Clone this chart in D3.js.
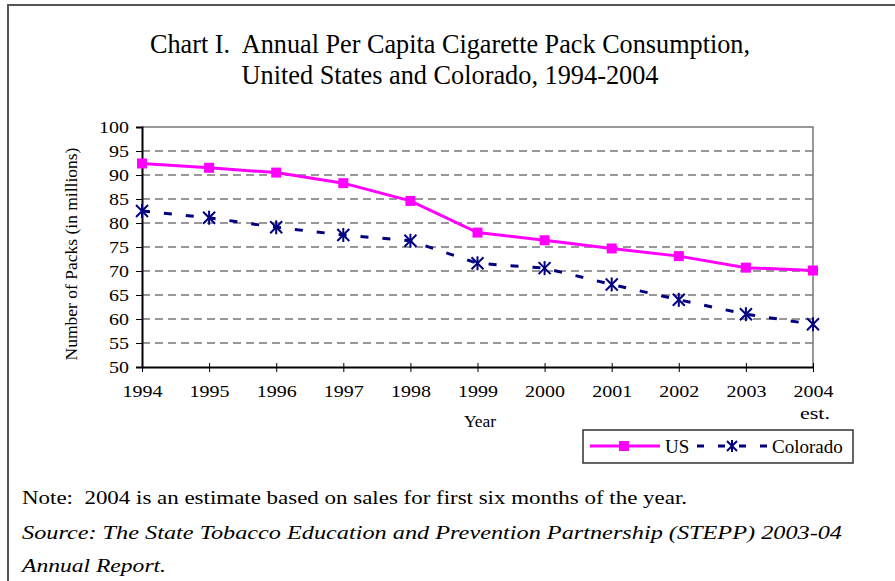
<!DOCTYPE html>
<html><head><meta charset="utf-8">
<script src="https://cdn.jsdelivr.net/npm/d3@7"></script>
<style>body{margin:0;background:#fff}svg{display:block}</style>
</head><body><svg id="c" width="895" height="581"></svg>
<script>
const years = [1994,1995,1996,1997,1998,1999,2000,2001,2002,2003,2004];
const usValues = [92.4,91.5,90.5,88.3,84.6,78.0,76.4,74.7,73.1,70.7,70.1];
const coValues = [82.5,81.1,79.1,77.5,76.3,71.6,70.6,67.2,64.0,61.0,58.9];
const yTicks = [50,55,60,65,70,75,80,85,90,95,100];
const titleLines = ["Chart I.  Annual Per Capita Cigarette Pack Consumption,","United States and Colorado, 1994-2004"];
const seriesNames = ["US","Colorado"];
const noteLines = ["Note:  2004 is an estimate based on sales for first six months of the year.",
  "Source: The State Tobacco Education and Prevention Partnership (STEPP) 2003-04",
  "Annual Report."];

const FONT = '"Liberation Serif", "Times New Roman", serif';
const svg = d3.select("#c");
// outer frame
svg.append("path").attr("d","M8,581 L8,5 L895,5").attr("fill","none").attr("stroke","#555").attr("stroke-width",2);

const x = d3.scaleLinear().domain([1994,2004]).range([142,813]);
const y = d3.scaleLinear().domain([50,100]).range([367,127]);

function txt(g){ return g.append("text").style("font-family",FONT).attr("fill","#000"); }

// title
const titleW = [600,417];
titleLines.forEach((t,i)=>{
  txt(svg).attr("x",450).attr("y",53+i*31).attr("text-anchor","middle").style("white-space","pre")
   .style("font-size","27px").attr("textLength",titleW[i]).attr("lengthAdjust","spacingAndGlyphs").text(t);
});

// grid
svg.append("g").selectAll("line").data(yTicks.filter(t=>t>50&&t<100)).enter().append("line")
  .attr("x1",x(1994)).attr("x2",x(2004)).attr("y1",d=>y(d)).attr("y2",d=>y(d))
  .attr("stroke","#333").attr("stroke-width",1).attr("stroke-dasharray","8,5");
// plot border top & right
svg.append("path").attr("d",`M${x(1994)},${y(100)} L${x(2004)},${y(100)} L${x(2004)},${y(50)}`)
  .attr("fill","none").attr("stroke","#777").attr("stroke-width",1.5);

// axes
const yAxis = d3.axisLeft(y).tickValues(yTicks).tickSize(6).tickPadding(7);
const gy = svg.append("g").attr("transform",`translate(${x(1994)},0)`).call(yAxis).attr("font-family",null).attr("font-size",null);
gy.select(".domain").attr("stroke","#000").attr("stroke-width",2);
gy.selectAll(".tick line").attr("stroke","#000").attr("stroke-width",1);
gy.selectAll("text").style("font-family",FONT).style("font-size","17.5px").attr("fill","#000")
  .attr("textLength",d=>String(d).length*10).attr("lengthAdjust","spacingAndGlyphs");

const xAxis = d3.axisBottom(x).tickValues(years).tickFormat(d3.format("d")).tickSizeInner(5).tickSizeOuter(0).tickPadding(13);
const gx = svg.append("g").attr("transform",`translate(0,${y(50)})`).call(xAxis).attr("font-family",null).attr("font-size",null);
gx.select(".domain").attr("stroke","#000").attr("stroke-width",2);
gx.selectAll(".tick line").attr("stroke","#000").attr("stroke-width",1).attr("y1",-4);
gx.selectAll("text").style("font-family",FONT).style("font-size","17.5px").attr("fill","#000")
  .attr("textLength",40).attr("lengthAdjust","spacingAndGlyphs");

txt(svg).attr("x",x(2004)+2).attr("y",419).attr("text-anchor","middle").style("font-size","17px")
  .attr("textLength",30).attr("lengthAdjust","spacingAndGlyphs").text("est.");
txt(svg).attr("x",480).attr("y",427).attr("text-anchor","middle").style("font-size","17.5px").text("Year");
txt(svg).attr("transform",`translate(77,254) rotate(-90)`).attr("text-anchor","middle").style("font-size","17.5px").text("Number of Packs (in millions)");

// lines
const line = d3.line().x((d,i)=>x(years[i])).y(d=>y(d));
svg.append("path").datum(coValues).attr("d",line).attr("fill","none").attr("stroke","#000080").attr("stroke-width",3).attr("stroke-dasharray","8,14");
svg.append("path").datum(usValues).attr("d",line).attr("fill","none").attr("stroke","#FF00FF").attr("stroke-width",3);

function star(g,cx,cy,r){
  const gg = g.append("g").attr("transform",`translate(${cx},${cy})`).attr("stroke","#000080").attr("stroke-width",2);
  gg.append("line").attr("x1",-r).attr("y1",-r).attr("x2",r).attr("y2",r);
  gg.append("line").attr("x1",-r).attr("y1",r).attr("x2",r).attr("y2",-r);
  gg.append("line").attr("x1",0).attr("y1",-r-1).attr("x2",0).attr("y2",r+1);
}
const mk = svg.append("g");
coValues.forEach((v,i)=>star(mk,x(years[i]),y(v),6));
mk.selectAll("rect").data(usValues).enter().append("rect")
  .attr("x",(d,i)=>x(years[i])-5).attr("y",d=>y(d)-5).attr("width",10).attr("height",10).attr("fill","#FF00FF");

// legend
const lg = svg.append("g");
lg.append("rect").attr("x",583).attr("y",430).attr("width",270).attr("height",33).attr("fill","#fff").attr("stroke","#333").attr("stroke-width",1.5);
lg.append("line").attr("x1",590).attr("x2",660).attr("y1",446).attr("y2",446).attr("stroke","#FF00FF").attr("stroke-width",3);
lg.append("rect").attr("x",619).attr("y",441).attr("width",10).attr("height",10).attr("fill","#FF00FF");
txt(lg).attr("x",665).attr("y",453).style("font-size","19px").text(seriesNames[0]);
lg.append("line").attr("x1",697).attr("x2",768).attr("y1",446).attr("y2",446).attr("stroke","#000080").attr("stroke-width",3).attr("stroke-dasharray","7,14");
star(lg,732,446,5);
txt(lg).attr("x",772).attr("y",453).style("font-size","19px").text(seriesNames[1]);

// notes
const noteW = [665,820,144];
noteLines.forEach((t,i)=>{
  txt(svg).attr("x",22).attr("y",[504,539,572][i]).style("font-size","19px").style("white-space","pre")
    .style("font-style",i>0?"italic":"normal")
    .attr("textLength",noteW[i]).attr("lengthAdjust","spacingAndGlyphs").text(t);
});
</script></body></html>
